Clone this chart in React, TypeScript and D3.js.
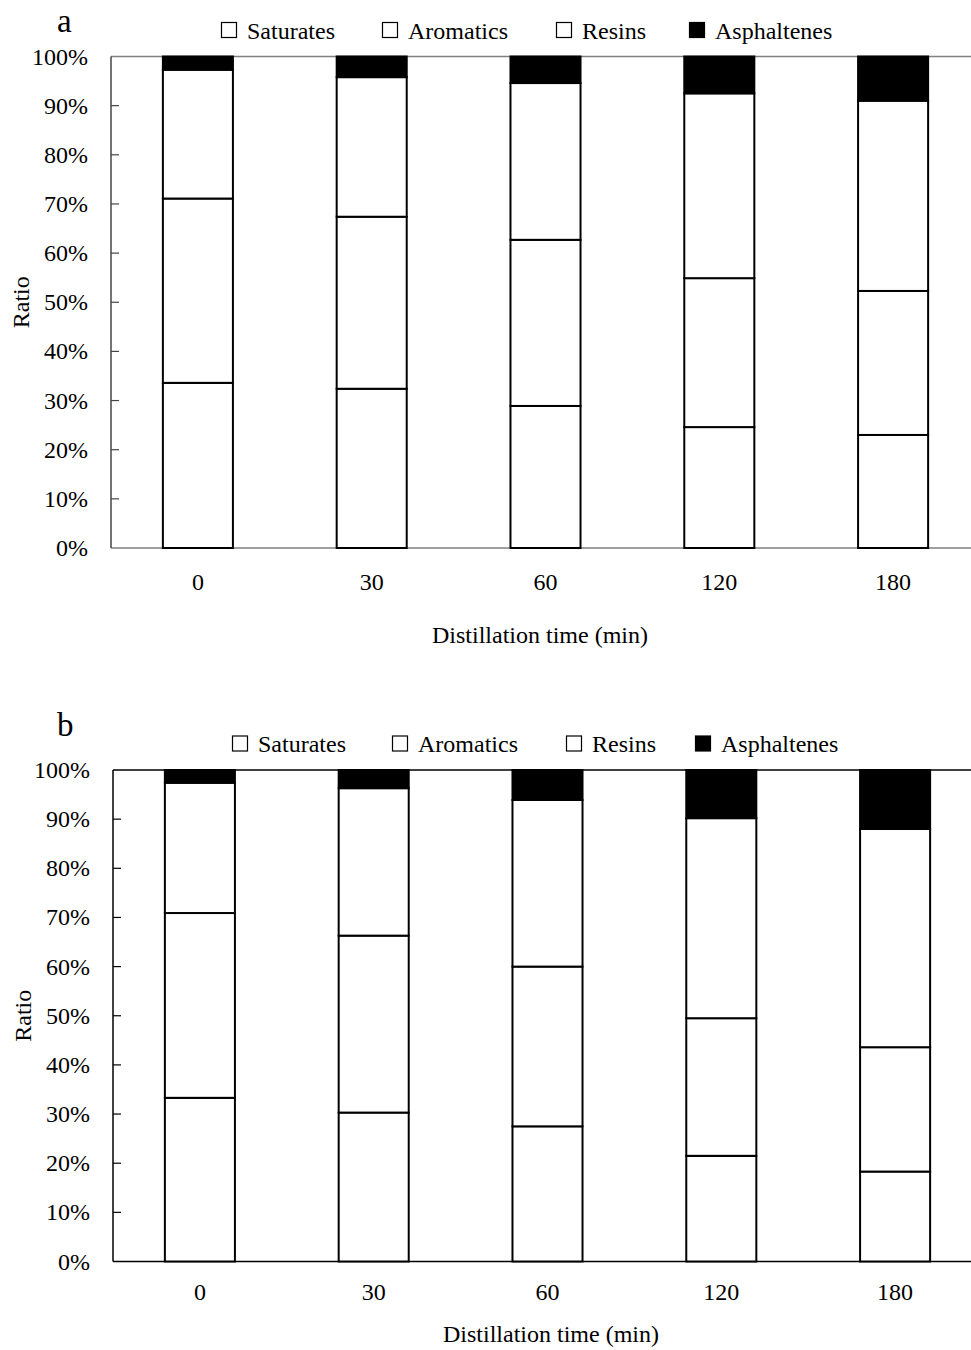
import React from 'react';
import * as d3 from 'd3';

// distillation time categories and component shares (%)
const categories = ['0', '30', '60', '120', '180'];
const seriesNames = ['Saturates', 'Aromatics', 'Resins', 'Asphaltenes'];
const seriesFill = ['#fff', '#fff', '#fff', '#000'];

const saturatesA = [33.6, 32.4, 28.9, 24.6, 23.0];
const aromaticsA = [37.5, 35.0, 33.8, 30.3, 29.3];
const resinsA = [26.2, 28.4, 31.9, 37.6, 38.7];
const asphaltenesA = [2.7, 4.2, 5.4, 7.5, 9.0];

const saturatesB = [33.3, 30.3, 27.5, 21.5, 18.3];
const aromaticsB = [37.6, 36.0, 32.5, 28.0, 25.3];
const resinsB = [26.5, 30.0, 33.9, 40.7, 44.4];
const asphaltenesB = [2.6, 3.7, 6.1, 9.8, 12.0];

const yTicks = [0, 10, 20, 30, 40, 50, 60, 70, 80, 90, 100];

const FONT = '"Liberation Serif", "Times New Roman", serif';

type PanelProps = {
  tag: string;
  tagY: number;
  values: number[][];
  left: number;
  top: number;
  axisColor: string;
  borderColor: string;
  legendX: number[];
  xLabelX: number;
  tickDy: number;
  xLabelDy: number;
};

function Panel({ tag, tagY, values, left, top, axisColor, borderColor, legendX, xLabelX, tickDy, xLabelDy }: PanelProps) {
  const w = 869;
  const h = 491.5;

  const rows = categories.map((c, i) => {
    const r: any = { cat: c };
    seriesNames.forEach((s, k) => (r[s] = values[k][i]));
    return r;
  });
  const stacked = d3.stack().keys(seriesNames)(rows);

  const x = d3.scaleBand().domain(categories).range([0, w]).paddingInner(0.597).paddingOuter(0.2985);
  const y = d3.scaleLinear().domain([0, 100]).range([h, 0]);

  return (
    <g>
      <text x={57} y={tagY} fontSize={33} fontFamily={FONT}>{tag}</text>

      {/* legend */}
      {seriesNames.map((s, k) => (
        <g key={s} transform={`translate(${legendX[k]},${top - 25})`}>
          <rect x={0.5} y={-9} width={15} height={15} fill={seriesFill[k]} stroke="#000" strokeWidth={1.2} />
          <text x={26} y={7} fontSize={24} fontFamily={FONT}>{s}</text>
        </g>
      ))}

      <g transform={`translate(${left},${top})`}>
        {/* plot frame */}
        <line x1={0} x2={w + 20} y1={0} y2={0} stroke={borderColor} strokeWidth={1.5} />
        <line x1={0} x2={w + 20} y1={h} y2={h} stroke={borderColor} strokeWidth={1.5} />
        <line x1={0} x2={0} y1={0} y2={h} stroke={axisColor} strokeWidth={1.5} />

        {yTicks.map((t) => (
          <g key={t}>
            {t > 0 && t < 100 && <line x1={0} x2={8} y1={y(t)} y2={y(t)} stroke={axisColor} strokeWidth={1.2} />}
            <text x={-23} y={y(t) + 8} textAnchor="end" fontSize={24} fontFamily={FONT}>{t}%</text>
          </g>
        ))}

        {stacked.map((layer, k) => (
          <g key={layer.key}>
            {layer.map((d: any, i: number) => (
              <rect
                key={i}
                x={x(categories[i])}
                y={y(d[1])}
                width={x.bandwidth()}
                height={y(d[0]) - y(d[1])}
                fill={seriesFill[k]}
                stroke="#000"
                strokeWidth={2}
              />
            ))}
          </g>
        ))}

        {categories.map((c) => (
          <text key={c} x={(x(c) as number) + x.bandwidth() / 2} y={h + tickDy} textAnchor="middle" fontSize={24} fontFamily={FONT}>{c}</text>
        ))}

        <text transform={`translate(-82,${h / 2}) rotate(-90)`} textAnchor="middle" fontSize={24} fontFamily={FONT}>Ratio</text>
      </g>

      <text x={xLabelX} y={top + h + xLabelDy} textAnchor="middle" fontSize={24} fontFamily={FONT}>Distillation time (min)</text>
    </g>
  );
}

export default function App() {
  return (
    <svg width={971} height={1350} style={{ position: 'absolute', left: 0, top: 0, background: '#fff' }}>
      <rect width={971} height={1350} fill="#fff" />
      <Panel
        tag="a"
        tagY={32}
        values={[saturatesA, aromaticsA, resinsA, asphaltenesA]}
        left={111}
        top={56.5}
        axisColor="#444"
        borderColor="#808080"
        legendX={[221, 382, 556, 689]}
        xLabelX={540}
        tickDy={42}
        xLabelDy={95}
      />
      <Panel
        tag="b"
        tagY={736}
        values={[saturatesB, aromaticsB, resinsB, asphaltenesB]}
        left={113}
        top={770}
        axisColor="#000"
        borderColor="#000"
        legendX={[232, 392, 566, 695]}
        xLabelX={551}
        tickDy={38}
        xLabelDy={80}
      />
    </svg>
  );
}
